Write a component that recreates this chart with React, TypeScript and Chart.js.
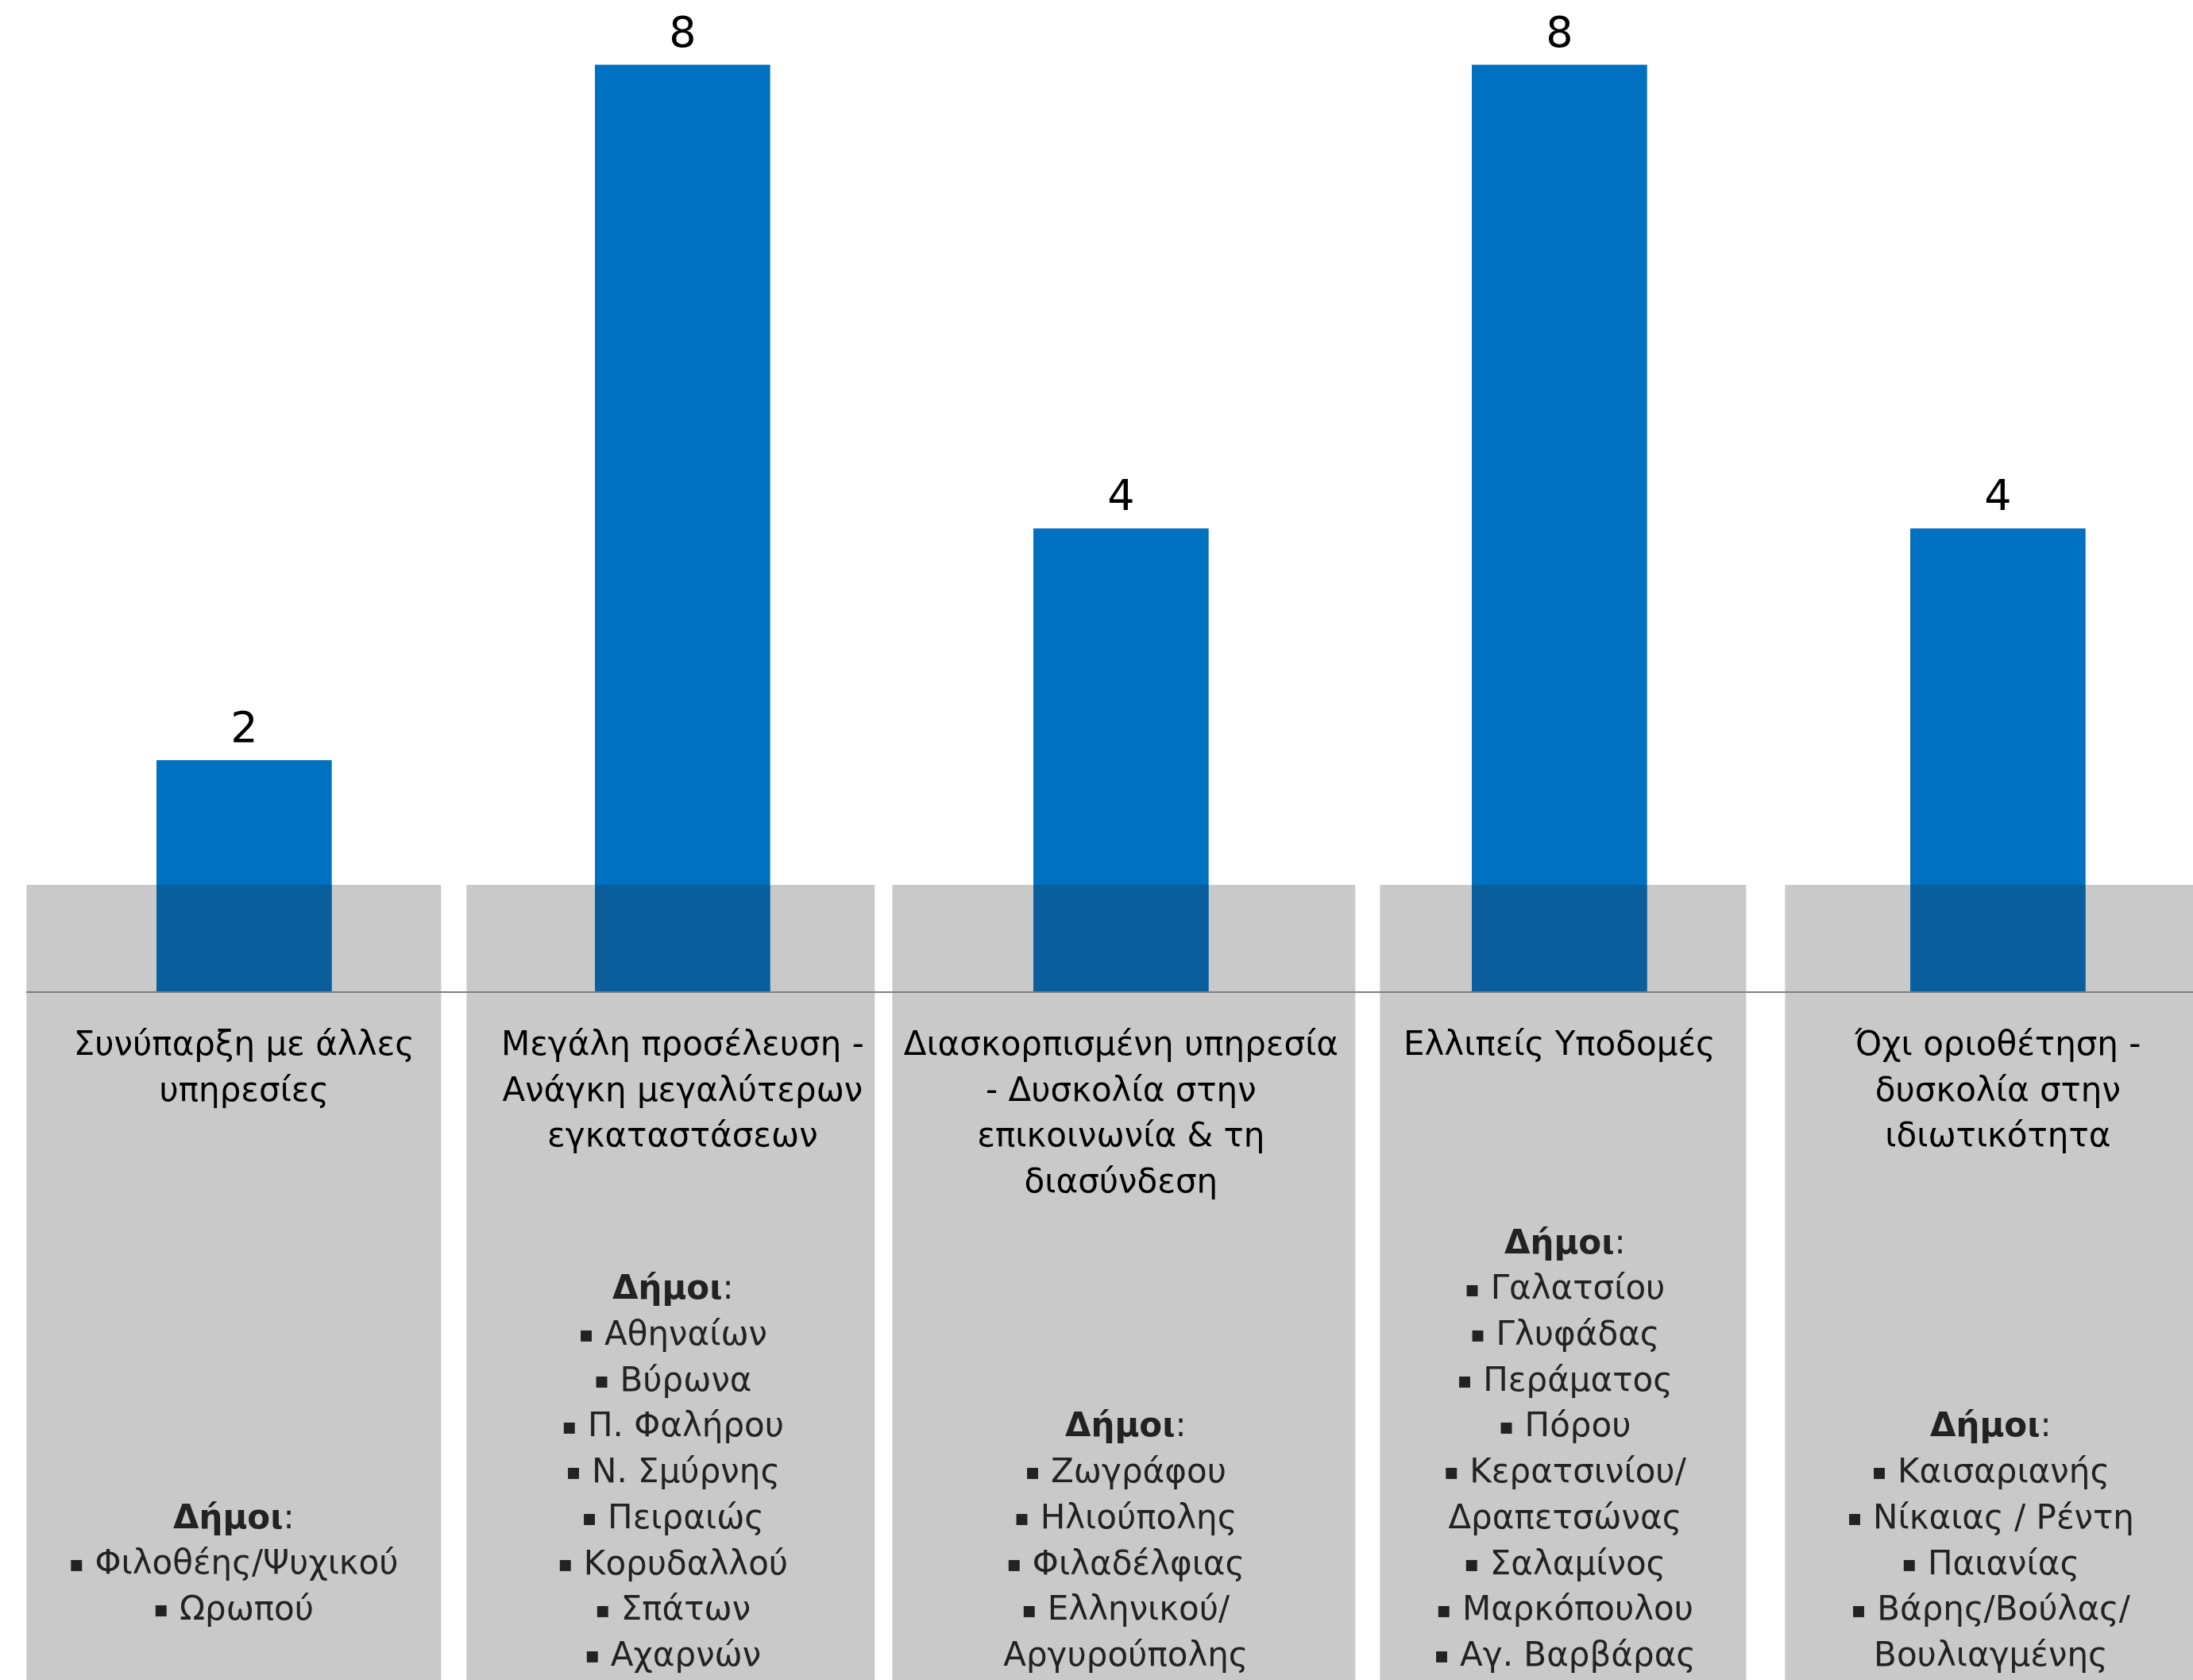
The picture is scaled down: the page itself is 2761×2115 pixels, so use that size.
import { useEffect, useRef } from 'react';
import { Chart, registerables } from 'chart.js';

Chart.register(...registerables);

// ---------- DATA ----------
const categoryTitles: string[][] = [
  ['Συνύπαρξη με άλλες', 'υπηρεσίες'],
  ['Μεγάλη προσέλευση -', 'Ανάγκη μεγαλύτερων', 'εγκαταστάσεων'],
  ['Διασκορπισμένη υπηρεσία', '- Δυσκολία στην', 'επικοινωνία & τη', 'διασύνδεση'],
  ['Ελλιπείς Υποδομές'],
  ['Όχι οριοθέτηση -', 'δυσκολία στην', 'ιδιωτικότητα'],
];

const counts: number[] = [2, 8, 4, 8, 4];

const listHeader = 'Δήμοι';

const municipalities: string[][] = [
  ['▪ Φιλοθέης/Ψυχικού', '▪ Ωρωπού'],
  ['▪ Αθηναίων', '▪ Βύρωνα', '▪ Π. Φαλήρου', '▪ Ν. Σμύρνης', '▪ Πειραιώς', '▪ Κορυδαλλού', '▪ Σπάτων', '▪ Αχαρνών'],
  ['▪ Ζωγράφου', '▪ Ηλιούπολης', '▪ Φιλαδέλφιας', '▪ Ελληνικού/', 'Αργυρούπολης'],
  ['▪ Γαλατσίου', '▪ Γλυφάδας', '▪ Περάματος', '▪ Πόρου', '▪ Κερατσινίου/', 'Δραπετσώνας', '▪ Σαλαμίνος', '▪ Μαρκόπουλου', '▪ Αγ. Βαρβάρας'],
  ['▪ Καισαριανής', '▪ Νίκαιας / Ρέντη', '▪ Παιανίας', '▪ Βάρης/Βούλας/', 'Βουλιαγμένης'],
];

// ---------- LAYOUT / STYLE ----------
const W = 2761;
const H = 2115;
const FONT = "'DejaVu Sans', Verdana, sans-serif";
const BAR_COLOR = '#0070C0';
const OVERLAP_COLOR = '#0A5E9B';
const PANEL_COLOR = '#C9C9C9';
const AXIS_COLOR = '#7F7F7F';
const PANEL_EXTENTS: [number, number][] = [
  [-274, 248],
  [-272, 242],
  [-288, 295],
  [-226, 235],
  [-268, 246],
];
const PANEL_RISE = 135;
const TITLE_OFFSET = 68;
const LINE_H = 57.7;
const LIST_BOTTOM_GAP = [87, 29, 29, 29, 29];
const LIST_SHIFT = [-13, -12, 6, 7, -9];
const TEXT_SIZE = 42;
const BULLET_SIZE = 28;
const LABEL_SIZE = 54;
const BULLET = '▪';

function drawListItem(ctx: CanvasRenderingContext2D, text: string, cx: number, y: number) {
  ctx.textAlign = 'left';
  if (text.startsWith(BULLET)) {
    const rest = text.slice(1);
    ctx.font = `${BULLET_SIZE}px ${FONT}`;
    const wb = ctx.measureText(BULLET).width;
    ctx.font = `${TEXT_SIZE}px ${FONT}`;
    const wr = ctx.measureText(rest).width;
    const x0 = cx - (wb + wr) / 2;
    ctx.font = `${BULLET_SIZE}px ${FONT}`;
    ctx.fillText(BULLET, x0, y);
    ctx.font = `${TEXT_SIZE}px ${FONT}`;
    ctx.fillText(rest, x0 + wb, y);
  } else {
    ctx.font = `${TEXT_SIZE}px ${FONT}`;
    const w = ctx.measureText(text).width;
    ctx.fillText(text, cx - w / 2, y);
  }
}

const panelPlugin = {
  id: 'panels',
  beforeDatasetsDraw(chart: any) {
    const { ctx } = chart;
    const meta = chart.getDatasetMeta(0);
    const base = chart.scales.y.getPixelForValue(0);
    ctx.save();
    ctx.fillStyle = PANEL_COLOR;
    meta.data.forEach((bar: any, i: number) => {
      const [l, r] = PANEL_EXTENTS[i];
      const top = base - PANEL_RISE;
      ctx.fillRect(bar.x + l, top, r - l, chart.height - top);
    });
    ctx.restore();
  },
  afterDatasetsDraw(chart: any) {
    const { ctx, chartArea } = chart;
    const meta = chart.getDatasetMeta(0);
    const base = chart.scales.y.getPixelForValue(0);
    const panelTop = base - PANEL_RISE;
    ctx.save();
    // darker overlap of bars with panels
    ctx.fillStyle = OVERLAP_COLOR;
    meta.data.forEach((bar: any) => {
      const p = bar.getProps(['x', 'y', 'base', 'width'], true);
      const top = Math.max(p.y, panelTop);
      ctx.fillRect(p.x - p.width / 2, top, p.width, p.base - top);
    });
    // axis line
    ctx.strokeStyle = AXIS_COLOR;
    ctx.lineWidth = 2;
    ctx.beginPath();
    ctx.moveTo(chartArea.left, base);
    ctx.lineTo(chartArea.right, base);
    ctx.stroke();

    // value labels
    ctx.fillStyle = '#000000';
    ctx.textAlign = 'center';
    ctx.textBaseline = 'alphabetic';
    ctx.font = `${LABEL_SIZE}px ${FONT}`;
    meta.data.forEach((bar: any, i: number) => {
      ctx.fillText(String(counts[i]), bar.x, bar.y - 23);
    });

    // category titles
    ctx.textBaseline = 'middle';
    ctx.font = `${TEXT_SIZE}px ${FONT}`;
    meta.data.forEach((bar: any, i: number) => {
      categoryTitles[i].forEach((line, k) => {
        ctx.fillText(line, bar.x, base + TITLE_OFFSET + k * LINE_H);
      });
    });

    // municipality lists
    ctx.fillStyle = '#222222';
    meta.data.forEach((bar: any, i: number) => {
      const list = municipalities[i];
      const cx = bar.x + LIST_SHIFT[i];
      const lastY = chart.height - LIST_BOTTOM_GAP[i];
      const headerY = lastY - list.length * LINE_H;
      ctx.font = `bold ${TEXT_SIZE}px ${FONT}`;
      const wBold = ctx.measureText(listHeader).width;
      ctx.font = `${TEXT_SIZE}px ${FONT}`;
      const wColon = ctx.measureText(':').width;
      const startX = cx - (wBold + wColon) / 2;
      ctx.textAlign = 'left';
      ctx.font = `bold ${TEXT_SIZE}px ${FONT}`;
      ctx.fillText(listHeader, startX, headerY);
      ctx.font = `${TEXT_SIZE}px ${FONT}`;
      ctx.fillText(':', startX + wBold, headerY);
      list.forEach((item, k) => {
        drawListItem(ctx, item, cx, headerY + (k + 1) * LINE_H);
      });
    });
    ctx.restore();
  },
};

export default function App() {
  const canvasRef = useRef<HTMLCanvasElement | null>(null);

  useEffect(() => {
    document.body.style.margin = '0';
    const canvas = canvasRef.current;
    if (!canvas) return;
    const chart = new Chart(canvas, {
      type: 'bar',
      data: {
        datasets: [
          {
            data: counts.map((v, i) => ({ x: i, y: v })),
            backgroundColor: BAR_COLOR,
            borderWidth: 0,
            barThickness: 220,
          },
        ],
      },
      options: {
        responsive: false,
        animation: false,
        devicePixelRatio: 1,
        layout: { padding: { left: 33, right: 0, top: 9, bottom: 866 } },
        plugins: {
          legend: { display: false },
          tooltip: { enabled: false },
        },
        scales: {
          x: {
            type: 'linear',
            display: false,
            offset: false,
            grid: { offset: false },
            min: -0.497,
            max: 4.445,
          },
          y: {
            display: false,
            min: 0,
            max: 8.5,
          },
        },
      },
      plugins: [panelPlugin],
    });
    return () => chart.destroy();
  }, []);

  return (
    <div style={{ width: W, height: H }}>
      <canvas ref={canvasRef} width={W} height={H} style={{ display: 'block' }} />
    </div>
  );
}
